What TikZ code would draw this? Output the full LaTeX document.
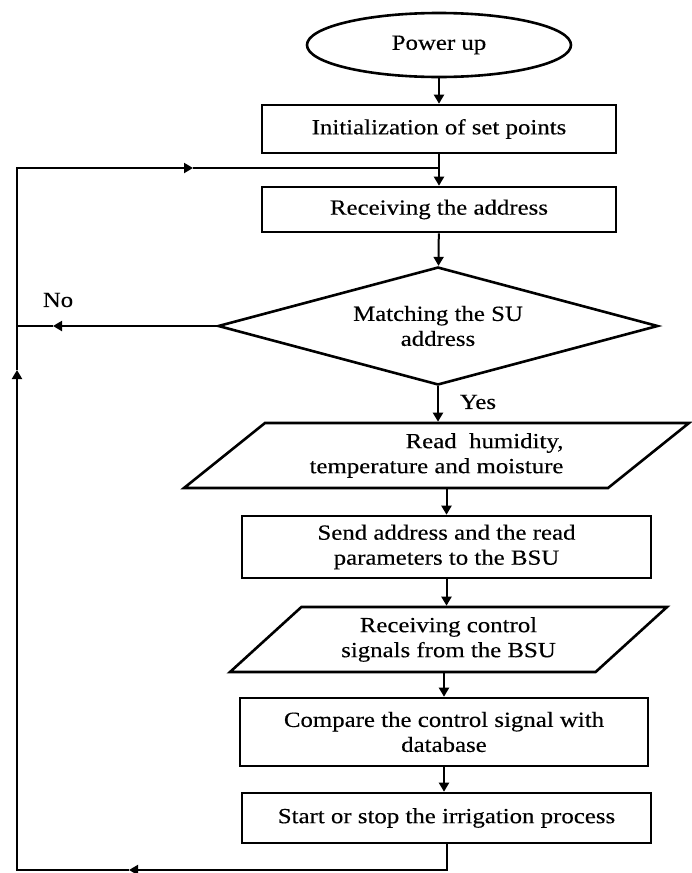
\documentclass[tikz,border=0pt]{standalone}
\usepackage{fontspec}
\setmainfont[FakeStretch=1.15,FakeBold=0.3]{Liberation Serif}
\usetikzlibrary{shapes.geometric,arrows.meta}

\begin{document}
\begin{tikzpicture}[x=0.5pt,y=-0.5pt]
        \tikzstyle{every node}=[font=\fontsize{10.8}{12.5}\selectfont, text=black, align=center]
        \tikzstyle{blk}=[rectangle, draw=black, line width=1.3pt, inner sep=2pt]
        \tikzstyle{io}=[trapezium, trapezium stretches body, draw=black, line width=1.3pt, inner sep=2pt]
        \tikzstyle{line}=[line width=1pt, -{Triangle[length=4.5pt,width=5pt]}]
        \tikzstyle{wire}=[line width=1pt]

        \useasboundingbox (0,0) rectangle (691,873);

        \node[ellipse, draw=black, line width=1.3pt, minimum width=132pt, minimum height=32pt] (pw) at (439,45) {Power up};
        \node[blk, minimum width=177pt, minimum height=24pt] (init) at (439,129) {Initialization of set points};
        \node[blk, minimum width=177pt, minimum height=22.5pt] (recv) at (439,209.5) {Receiving the address};
        \node[diamond, draw=black, line width=1.3pt, shape aspect=3.7, inner sep=0pt, minimum width=220pt, minimum height=59pt] (match) at (438,326) {Matching the SU\\address};
        \node[io, align=right, trapezium left angle=33, trapezium right angle=147, minimum width=252.5pt, minimum height=32.5pt] (read) at (436.5,455.5) {Read\ \ humidity,\\temperature and moisture};
        \node[blk, minimum width=204.5pt, minimum height=31pt] (send) at (446.5,547) {Send address and the read\\parameters to the BSU};
        \node[io, trapezium left angle=36.4, trapezium right angle=143.6, minimum width=218.5pt, minimum height=32.5pt] (ctrl) at (448.5,639.5) {Receiving control\\signals from the BSU};
        \node[blk, minimum width=204pt, minimum height=34pt] (cmp) at (444,732) {Compare the control signal with\\database};
        \node[blk, minimum width=204.5pt, minimum height=25pt] (irr) at (446.5,818) {Start or stop the irrigation process};

        \node (no) at (58,300) {No};
        \node (yes) at (478,402) {Yes};

        \coordinate (tl) at (17,168);
        \coordinate (bl) at (17,870);
        \coordinate (nl) at (17,326);
        \coordinate (m1) at (129,870);
        \coordinate (m2) at (17,370);
        \coordinate (m3) at (193,168);
        \coordinate (m4) at (53,326);

        \draw[line] (pw.south) -- (pw.south |- init.north);
        \draw[line] (init) -- (recv);
        \draw[line] (recv) -- (match);
        \draw[line] (match.south) -- (match.south |- read.north);
        \draw[line] (read.south -| send.north) -- (send.north);
        \draw[line] (send.south) -- (send.south |- ctrl.north);
        \draw[line] (ctrl.south -| cmp.north) -- (cmp.north);
        \draw[line] (cmp.south) -- (cmp.south |- irr.north);

        \draw[line] (irr.south) |- (m1);
        \draw[line] (m1) -- (bl) -- (m2);
        \draw[line] (m2) -- (tl) -- (m3);
        \draw[wire] (m3) -- (recv.north |- tl);
        \draw[line] (match.west) -- (m4);
        \draw[wire] (m4) -- (nl);
    \end{tikzpicture}
\end{document}
